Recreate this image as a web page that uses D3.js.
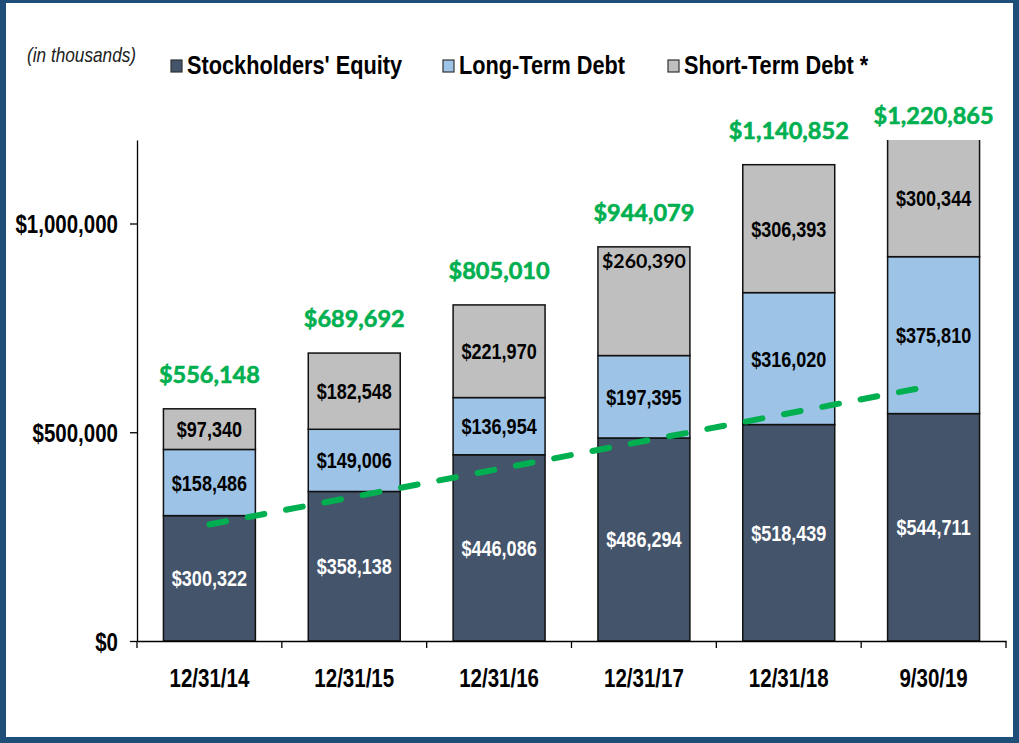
<!DOCTYPE html>
<html>
<head>
<meta charset="utf-8">
<script src="https://cdn.jsdelivr.net/npm/d3@7"></script>
<style>
  body { margin: 0; background: #fff; }
  svg { display: block; }
  .narrow { font-family: "Liberation Sans", Arial, sans-serif; font-weight: bold; }
</style>
</head>
<body>
<div id="chart"></div>
<script>
const dates = ["12/31/14", "12/31/15", "12/31/16", "12/31/17", "12/31/18", "9/30/19"];
const equity = [300322, 358138, 446086, 486294, 518439, 544711];
const longTerm = [158486, 149006, 136954, 197395, 316020, 375810];
const shortTerm = [97340, 182548, 221970, 260390, 306393, 300344];
const totals = [556148, 689692, 805010, 944079, 1140852, 1220865];
const yTicks = [0, 500000, 1000000];
const seriesNames = ["Stockholders' Equity", "Long-Term Debt", "Short-Term Debt *"];
// dashed trend line, from the first bar to just short of the last one
const trendPos = [0, 4.94];
const trendVal = [279000, 608000];

const colors = ["#44546A", "#9DC3E6", "#BFBFBF"];
const W = 1019, H = 743;
const NARROW = 0.82; // no Arial Narrow here, so squeeze Liberation Sans

// squeeze text horizontally around its own anchor point
function condense(sel) {
  sel.each(function() {
    const t = d3.select(this);
    const tx = +t.attr("x") || 0, ty = +t.attr("y") || 0;
    t.attr("transform", `translate(${tx},${ty}) scale(${NARROW},1) translate(${-tx},${-ty})`);
  });
}

const svg = d3.select("#chart").append("svg")
    .attr("width", W)
    .attr("height", H);

const x = d3.scaleBand()
    .domain(dates)
    .range([137, 1006])
    .paddingInner(0.365)
    .paddingOuter(0.365 / 2);

const y = d3.scaleLinear()
    .domain([0, 1200000])
    .range([641, 140]);

const fmt = d => "$" + d3.format(",")(d);

// stack the three series
const rows = dates.map((d, i) => ({date: d, eq: equity[i], lt: longTerm[i], st: shortTerm[i]}));
const stack = d3.stack().keys(["eq", "lt", "st"])(rows);

svg.append("clipPath").attr("id", "plotClip")
  .append("rect")
    .attr("x", 0).attr("y", y.range()[1])
    .attr("width", W).attr("height", y.range()[0] - y.range()[1] + 2);

const bars = svg.append("g").attr("clip-path", "url(#plotClip)");

stack.forEach((layer, k) => {
  bars.selectAll(null)
      .data(layer)
      .enter()
      .append("rect")
      .attr("x", d => x(d.data.date))
      .attr("y", d => y(d[1]))
      .attr("width", x.bandwidth())
      .attr("height", d => y(d[0]) - y(d[1]))
      .attr("fill", colors[k])
      .attr("stroke", "#111")
      .attr("stroke-width", 1.5);
});

// segment labels ($260,390 sits at the top of its box in another font, like the original)
const odd = (k, d) => k == 2 && d.data.date == "12/31/17";
stack.forEach((layer, k) => {
  const lbl = svg.selectAll(null)
      .data(layer)
      .enter()
      .append("text")
      .attr("class", d => odd(k, d) ? "" : "narrow")
      .attr("x", d => x(d.data.date) + x.bandwidth() / 2)
      .attr("y", d => {
        let top = Math.max(y(d[1]), y.range()[1]);
        if (odd(k, d)) return top + 21;
        return (top + y(d[0])) / 2 + 8;
      })
      .attr("text-anchor", "middle")
      .style("font-family", d => odd(k, d) ? "Lato, sans-serif" : null)
      .style("font-weight", "bold")
      .style("font-size", d => odd(k, d) ? "19.5px" : "22px")
      .attr("fill", k == 0 ? "#fff" : "#000")
      .text(d => fmt(d[1] - d[0]));
  condense(lbl.filter(d => !odd(k, d)));
});

// totals in green
svg.selectAll(".total")
    .data(totals)
    .enter()
    .append("text")
    .attr("class", "total")
    .attr("x", (d, i) => x(dates[i]) + x.bandwidth() / 2)
    .attr("y", d => Math.max(y(d) - 26, 124))
    .attr("text-anchor", "middle")
    .style("font-family", "Lato, sans-serif")
    .style("font-weight", "bold")
    .style("font-size", "23.5px")
    .attr("fill", "#00B050")
    .attr("stroke", "#00B050")
    .attr("stroke-width", 0.6)
    .text(fmt);

// trend line
const posX = d3.scaleLinear().domain([0, 1]).range([0, x.step()]);
const trendLine = d3.line()
    .x(d => x.range()[0] + x.step() / 2 + posX(d[0]))
    .y(d => y(d[1]));

svg.append("path")
    .attr("d", trendLine(trendPos.map((p, i) => [p, trendVal[i]])))
    .attr("fill", "none")
    .attr("stroke", "#00B050")
    .attr("stroke-width", 6)
    .attr("stroke-linecap", "round")
    .attr("stroke-dasharray", "17,22");

// y axis
const yAxis = svg.append("g")
    .attr("transform", "translate(137,0)")
    .call(d3.axisLeft(y).tickValues(yTicks).tickSize(7).tickSizeOuter(0).tickPadding(12).tickFormat(fmt));
yAxis.select(".domain").attr("stroke", "#000").attr("stroke-width", 1.3);
yAxis.selectAll(".tick line").attr("stroke", "#000").attr("stroke-width", 1.3);
yAxis.selectAll("text")
    .attr("class", "narrow")
    .attr("dy", "0.36em")
    .style("font-size", "25px")
    .attr("fill", "#000")
    .call(condense);

// x axis
const xAxis = svg.append("g")
    .attr("transform", "translate(0,641)")
    .call(d3.axisBottom(x).tickSize(0).tickSizeOuter(0).tickPadding(28));
xAxis.select(".domain").attr("stroke", "#000").attr("stroke-width", 1.5);
xAxis.selectAll("text")
    .attr("class", "narrow")
    .style("font-size", "25px")
    .attr("fill", "#000")
    .call(condense);
xAxis.selectAll(".bound")
    .data(d3.range(dates.length + 1))
    .enter()
    .append("line")
    .attr("class", "bound")
    .attr("x1", i => x.range()[0] + i * x.step())
    .attr("x2", i => x.range()[0] + i * x.step())
    .attr("y1", 0)
    .attr("y2", 7)
    .attr("stroke", "#000")
    .attr("stroke-width", 1.3);

// legend
svg.append("text")
    .attr("x", 27)
    .attr("y", 62)
    .style("font-family", "'Liberation Sans', Arial, sans-serif")
    .style("font-style", "italic")
    .style("font-size", "21px")
    .attr("fill", "#222")
    .text("(in thousands)")
    .call(condense);

const legendX = [171, 443, 668];
const legend = svg.selectAll(".legend")
    .data(seriesNames)
    .enter()
    .append("g")
    .attr("class", "legend")
    .attr("transform", (d, i) => `translate(${legendX[i]},0)`);
legend.append("rect")
    .attr("x", 0).attr("y", 60)
    .attr("width", 11).attr("height", 12)
    .attr("fill", (d, i) => colors[i])
    .attr("stroke", "#333")
    .attr("stroke-width", 1.2);
legend.append("text")
    .attr("class", "narrow")
    .attr("x", 16)
    .attr("y", 74)
    .style("font-size", "26.5px")
    .attr("fill", "#000")
    .text(d => d)
    .call(condense);

// frame
svg.append("rect")
    .attr("x", 3).attr("y", 0)
    .attr("width", W - 6).attr("height", H - 3)
    .attr("fill", "none")
    .attr("stroke", "#1F4E79")
    .attr("stroke-width", 6);
</script>
</body>
</html>
